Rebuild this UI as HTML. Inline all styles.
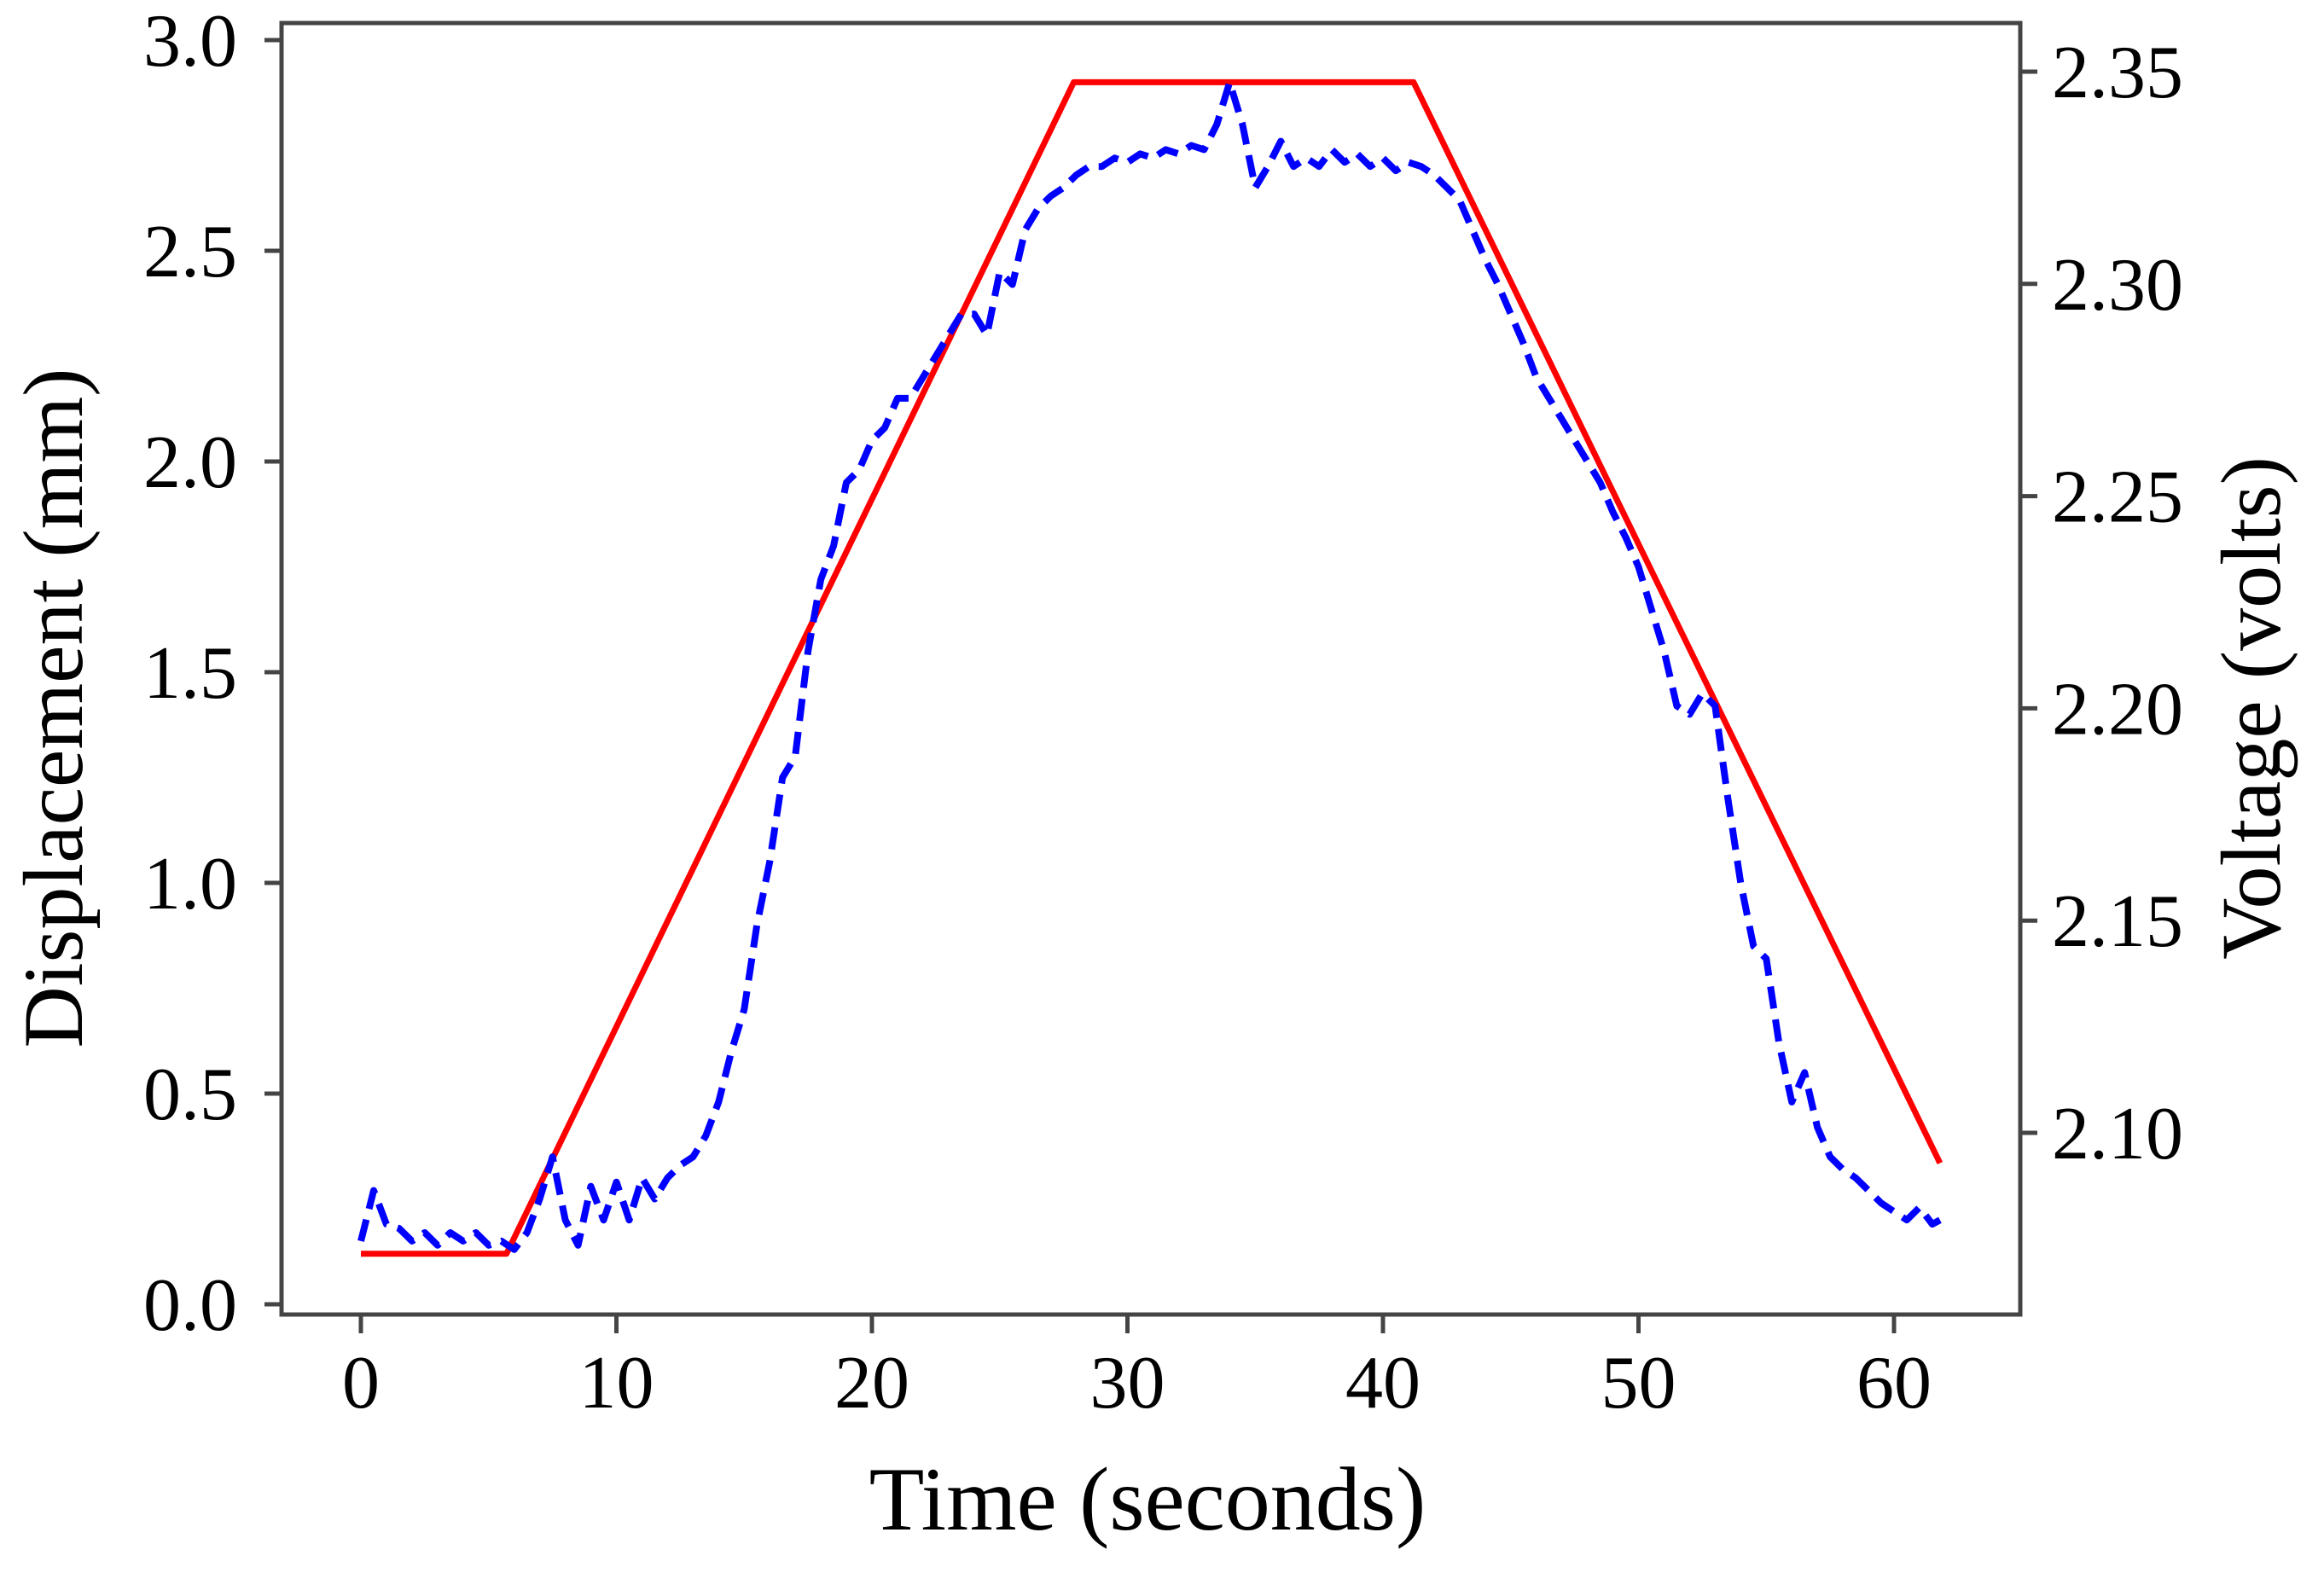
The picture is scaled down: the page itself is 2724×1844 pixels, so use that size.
<!DOCTYPE html>
<html><head><meta charset="utf-8">
<style>
html,body{margin:0;padding:0;background:#fff;}
svg{display:block;}
text{font-family:"Liberation Serif",serif;fill:#000;}
</style></head>
<body>
<svg id="chart" width="2724" height="1844" viewBox="0 0 2724 1844" xmlns="http://www.w3.org/2000/svg">
<g id="grid"></g>
<g id="series"></g>
<g id="axes"></g>
</svg>
<script>
const xTicks=[0,10,20,30,40,50,60];
const yLeftTicks=[0.0,0.5,1.0,1.5,2.0,2.5,3.0];
const yLeftLabels=["0.0","0.5","1.0","1.5","2.0","2.5","3.0"];
const yRightTicks=[2.10,2.15,2.20,2.25,2.30,2.35];
const yRightLabels=["2.10","2.15","2.20","2.25","2.30","2.35"];
const redTime=[0,5.7,27.9,41.2,61.8];
const redDisp=[0.12,0.12,2.9,2.9,0.335];
const blueTime=[0,0.5,1,1.5,2,2.5,3,3.5,4,4.5,5,5.5,6,6.5,7,7.5,8,8.5,9,9.5,10,10.5,11,11.5,12,12.5,13,13.5,14,14.5,15,15.5,16,16.5,17,17.5,18,18.5,19,19.5,20,20.5,21,21.5,22,22.5,23,23.5,24,24.5,25,25.5,26,26.5,27,27.5,28,28.5,29,29.5,30,30.5,31,31.5,32,32.5,33,33.5,34,34.5,35,35.5,36,36.5,37,37.5,38,38.5,39,39.5,40,40.5,41,41.5,42,42.5,43,43.5,44,44.5,45,45.5,46,46.5,47,47.5,48,48.5,49,49.5,50,50.5,51,51.5,52,52.5,53,53.5,54,54.5,55,55.5,56,56.5,57,57.5,58,58.5,59,59.5,60,60.5,61,61.5,61.8];
const blueDisp=[0.15,0.27,0.19,0.18,0.15,0.17,0.14,0.17,0.15,0.17,0.14,0.15,0.13,0.17,0.25,0.35,0.2,0.14,0.28,0.2,0.29,0.2,0.3,0.25,0.3,0.33,0.35,0.4,0.48,0.6,0.7,0.9,1.05,1.25,1.3,1.55,1.72,1.8,1.95,1.98,2.05,2.08,2.15,2.15,2.2,2.25,2.3,2.35,2.35,2.3,2.45,2.42,2.55,2.6,2.63,2.65,2.68,2.7,2.7,2.72,2.71,2.73,2.72,2.74,2.73,2.75,2.74,2.8,2.9,2.8,2.65,2.7,2.76,2.7,2.72,2.7,2.74,2.71,2.73,2.7,2.72,2.69,2.71,2.7,2.68,2.65,2.62,2.55,2.48,2.42,2.35,2.28,2.2,2.15,2.1,2.05,2.0,1.95,1.88,1.82,1.75,1.65,1.55,1.42,1.4,1.45,1.42,1.2,1.0,0.85,0.82,0.62,0.48,0.55,0.42,0.35,0.32,0.3,0.27,0.24,0.22,0.2,0.23,0.19,0.2];

const NS="http://www.w3.org/2000/svg";
const L=330,R=2368,T=27,B=1541;
function xs(t){return 423+(t-0)*(2220-423)/60;}
function yl(v){return 1529-(v-0)*(1529-47)/3;}
function yr(v){return 1328-(v-2.10)*(1328-84)/0.25;}
function mk(tag,attrs,parent){const e=document.createElementNS(NS,tag);for(const k in attrs)e.setAttribute(k,attrs[k]);parent.appendChild(e);return e;}
const series=document.getElementById('series');
const axes=document.getElementById('axes');

let d='';
for(let i=0;i<redTime.length;i++){d+=(i?'L':'M')+xs(redTime[i]).toFixed(1)+' '+yl(redDisp[i]).toFixed(1);}
const red=mk('path',{d:d,fill:'none',stroke:'#ff0000','stroke-width':7,'stroke-linejoin':'round'},series);



d='';
for(let i=0;i<blueTime.length;i++){d+=(i?'L':'M')+xs(blueTime[i]).toFixed(1)+' '+yl(blueDisp[i]).toFixed(1);}
const blue=mk('path',{d:d,fill:'none',stroke:'#0000ff','stroke-width':8,'stroke-dasharray':'26 13','stroke-linejoin':'round'},series);



const frame=mk('rect',{x:L,y:T,width:R-L,height:B-T,fill:'none',stroke:'#444','stroke-width':5},axes);



xTicks.forEach(t=>{
  const x=xs(t);
  mk('line',{x1:x,y1:B,x2:x,y2:B+22,stroke:'#444','stroke-width':5},axes);
  const tx=mk('text',{x:x,y:1650,'font-size':88,'text-anchor':'middle'},axes);
  tx.textContent=String(t);
  
  
});
yLeftTicks.forEach((v,i)=>{
  const y=yl(v);
  mk('line',{x1:L-20,y1:y,x2:L,y2:y,stroke:'#444','stroke-width':5},axes);
  const tx=mk('text',{x:278,y:y+30,'font-size':88,'text-anchor':'end'},axes);
  tx.textContent=yLeftLabels[i];
  
  
});
yRightTicks.forEach((v,i)=>{
  const y=yr(v);
  mk('line',{x1:R,y1:y,x2:R+20,y2:y,stroke:'#444','stroke-width':5},axes);
  const tx=mk('text',{x:2405,y:y+30,'font-size':88,'text-anchor':'start'},axes);
  tx.textContent=yRightLabels[i];
  
  
});
const xt=mk('text',{x:1345,y:1793,'font-size':106,'text-anchor':'middle'},axes);
xt.textContent='Time (seconds)';


const ylt=mk('text',{x:0,y:0,'font-size':100,'text-anchor':'middle',transform:'translate(96 830) rotate(-90)'},axes);
ylt.textContent='Displacement (mm)';


const yrt=mk('text',{x:0,y:0,'font-size':100,'text-anchor':'middle',transform:'translate(2672 830) rotate(-90)'},axes);
yrt.textContent='Voltage (volts)';


</script>
</body></html>
